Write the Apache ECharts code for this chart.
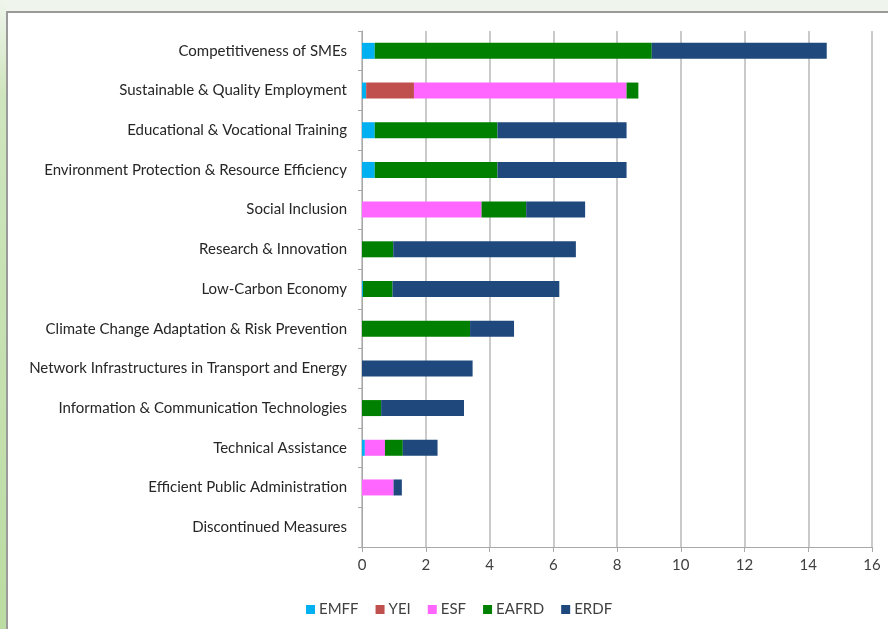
<!DOCTYPE html>
<html>
<head>
<meta charset="utf-8">
<script src="https://cdn.jsdelivr.net/npm/echarts@6/dist/echarts.min.js"></script>
<style>
html,body{margin:0;padding:0;background:#fff;}
#c{width:888px;height:629px;}
</style>
</head>
<body>
<div id="c"></div>
<script>
const categories = [
  "Competitiveness of SMEs",
  "Sustainable & Quality Employment",
  "Educational & Vocational Training",
  "Environment Protection & Resource Efficiency",
  "Social Inclusion",
  "Research & Innovation",
  "Low-Carbon Economy",
  "Climate Change Adaptation & Risk Prevention",
  "Network Infrastructures in Transport and Energy",
  "Information & Communication Technologies",
  "Technical Assistance",
  "Efficient Public Administration",
  "Discontinued Measures"
];
const EMFF  = [0.40, 0.13, 0.40, 0.40, 0,    0,    0.03, 0,    0,    0,    0.09, 0,    0];
const YEI   = [0,    1.50, 0,    0,    0,    0,    0,    0,    0,    0,    0,    0,    0];
const ESF   = [0,    6.67, 0,    0,    3.75, 0,    0,    0,    0,    0,    0.63, 0.99, 0];
const EAFRD = [8.69, 0.37, 3.85, 3.85, 1.40, 0.98, 0.93, 3.39, 0,    0.60, 0.56, 0,    0];
const ERDF  = [5.49, 0,    4.05, 4.05, 1.85, 5.73, 5.23, 1.38, 3.47, 2.60, 1.09, 0.26, 0];
const xTicks = [0, 2, 4, 6, 8, 10, 12, 14, 16];

const seriesDefs = [
  {name: "EMFF", data: EMFF, color: "#00B0F0"},
  {name: "YEI", data: YEI, color: "#C0504D"},
  {name: "ESF", data: ESF, color: "#FF66FF"},
  {name: "EAFRD", data: EAFRD, color: "#008000"},
  {name: "ERDF", data: ERDF, color: "#1F497D"}
];

const chart = echarts.init(document.getElementById('c'), null, {renderer: 'canvas'});
const font = 'Lato, "Open Sans", sans-serif';
chart.setOption({
  animation: false,
  backgroundColor: '#ffffff',
  textStyle: {fontFamily: font},
  graphic: [
    {type: 'rect', shape: {x: 0, y: 0, width: 888, height: 11}, style: {fill: '#EFF5EC'}, silent: true, z: -10},
    {type: 'rect', shape: {x: 0, y: 0, width: 6, height: 629},
      style: {fill: new echarts.graphic.LinearGradient(0, 0, 0, 1, [
        {offset: 0, color: '#EFF5EC'}, {offset: 0.15, color: '#CFE5BE'}, {offset: 1, color: '#BBDCA2'}
      ])}, silent: true, z: -10},
    {type: 'line', shape: {x1: 6, y1: 12, x2: 888, y2: 12}, style: {stroke: '#9A9A9A', lineWidth: 2}, silent: true, z: -9},
    {type: 'line', shape: {x1: 7, y1: 11, x2: 7, y2: 629}, style: {stroke: '#9A9A9A', lineWidth: 2}, silent: true, z: -9}
  ],
  grid: {left: 362, right: 16, top: 31, bottom: 82, containLabel: false},
  legend: {
    data: seriesDefs.map(s => s.name),
    left: 301, top: 597,
    itemWidth: 9, itemHeight: 9, itemGap: 17,
    icon: 'rect',
    textStyle: {fontFamily: font, fontSize: 15, color: '#404040', padding: [0, 0, 0, -1]}
  },
  xAxis: {
    type: 'value', min: 0, max: 16, interval: 2,
    axisLine: {show: true, lineStyle: {color: '#A8A8A8', width: 1}},
    axisTick: {show: true, length: 5, lineStyle: {color: '#A8A8A8'}},
    splitLine: {show: true, lineStyle: {color: '#B8B8B8', width: 1.5}},
    axisLabel: {
      margin: 11, fontSize: 15, color: '#404040', fontFamily: font,
      formatter: v => xTicks.includes(v) ? String(v) : ''
    }
  },
  yAxis: {
    type: 'category', data: categories, inverse: true,
    axisLine: {show: true, lineStyle: {color: '#A8A8A8', width: 1}},
    axisTick: {show: true, length: 4, lineStyle: {color: '#A8A8A8'}},
    splitLine: {show: false},
    axisLabel: {margin: 15, fontSize: 15, color: '#262626', fontFamily: font}
  },
  series: seriesDefs.map(s => ({
    name: s.name, type: 'bar', stack: 'total', data: s.data,
    barWidth: 16,
    itemStyle: {color: s.color},
    emphasis: {disabled: true}
  }))
});
</script>
</body>
</html>
